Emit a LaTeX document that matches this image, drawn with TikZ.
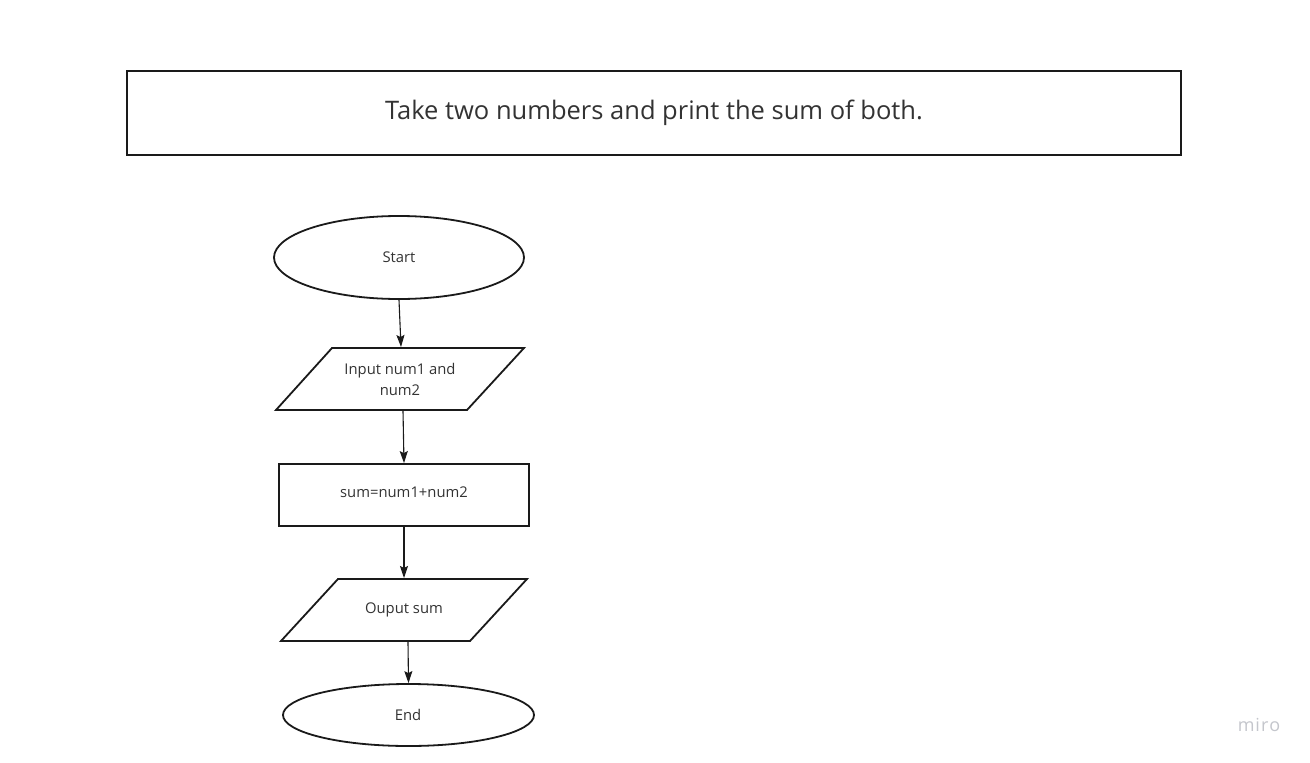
\documentclass[tikz,border=0pt]{standalone}
\usepackage{fontspec}
\setmainfont{Open Sans}
\usetikzlibrary{arrows.meta,shapes.geometric}
\definecolor{ink}{HTML}{1A1A1A}
\definecolor{txt}{HTML}{333333}
\definecolor{logo}{HTML}{C4C6CC}
\tikzset{
  shapeline/.style={draw=ink,line width=1.8pt,fill=white},
  conn/.style={draw=ink,line width=1.1pt,-{Stealth[length=12pt,width=8pt,inset=2pt]}},
  lbl/.style={text=txt,font=\fontsize{14.8}{21}\selectfont,align=center,inner sep=0pt},
  oval/.style={shapeline,ellipse,inner sep=0pt}
}
\begin{document}
\begin{tikzpicture}[x=1pt,y=-1pt]
\useasboundingbox[fill=white] (0,0) rectangle (1310,763);
% title box
\node[shapeline,line width=1.6pt,minimum width=1054pt,minimum height=84pt,inner sep=0pt,
  text=txt,font=\fontsize{25.5}{30}\selectfont] (title) at (654,113) {Take two numbers and print the sum of both.};
% start
\node[oval,minimum width=250pt,minimum height=83pt] (start) at (399,257.5) {};
\node[lbl] (startt) at (399,257) {Start};
% input parallelogram
\draw[shapeline] (332,348) -- (524,348) -- (467,410) -- (276,410) -- cycle;
\coordinate (intop) at (401,347);
\coordinate (inbot) at (403,411);
\node[lbl] (inputt) at (400,379) {Input num1 and\\num2};
% process
\node[shapeline,minimum width=250pt,minimum height=62pt,inner sep=0pt] (proc) at (404,495) {};
\node[lbl] (proct) at (404,492) {sum=num1+num2};
% output parallelogram
\draw[shapeline] (338,579) -- (527,579) -- (470,641) -- (281,641) -- cycle;
\coordinate (outtop) at (404,578);
\coordinate (outbot) at (408,642);
\node[lbl] (outt) at (404,610) {Ouput sum};
% end
\node[oval,minimum width=251pt,minimum height=62pt] (end) at (408.5,715) {};
\node[lbl] (endt) at (408,715) {End};
% connectors
\draw[conn] (start.south) -- (intop);
\draw[conn] (inbot) -- (proc.north);
\draw[conn] (proc.south) -- (outtop);
\draw[conn] (outbot) -- (end.north);
% logo
\node[text=logo,font=\fontsize{18}{20}\selectfont,inner sep=0pt] (miro) at (1259,725) {m\kern1pt i\kern1pt r\kern1pt o};
\end{tikzpicture}
\end{document}
